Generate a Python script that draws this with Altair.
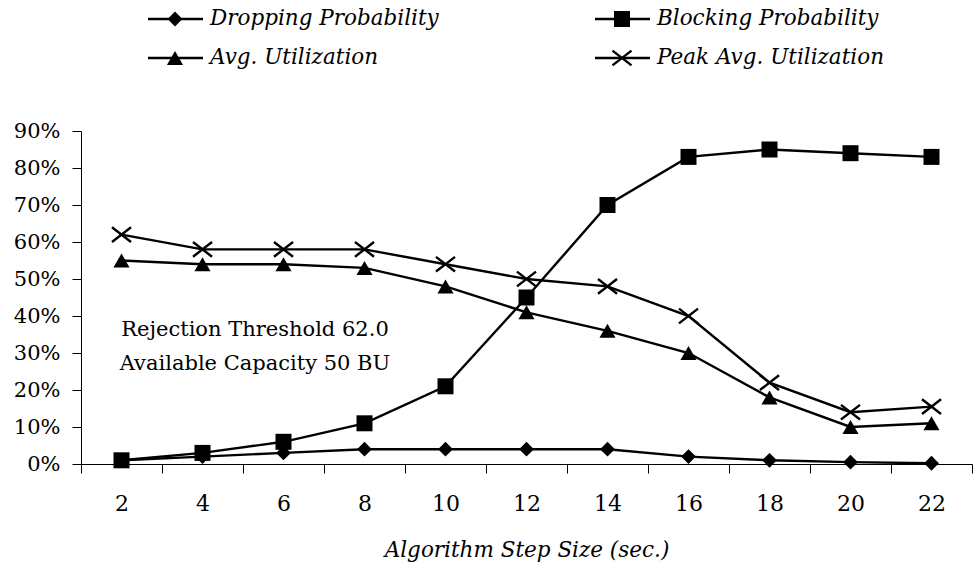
import altair as alt
import pandas as pd

steps = [2, 4, 6, 8, 10, 12, 14, 16, 18, 20, 22]
dropping = [1, 2, 3, 4, 4, 4, 4, 2, 1, 0.5, 0.2]
blocking = [1, 3, 6, 11, 21, 45, 70, 83, 85, 84, 83]
avg_util = [55, 54, 54, 53, 48, 41, 36, 30, 18, 10, 11]
peak_util = [62, 58, 58, 58, 54, 50, 48, 40, 22, 14, 15.5]

series_names = ["Dropping Probability", "Blocking Probability",
                "Avg. Utilization", "Peak Avg. Utilization"]
series_values = [dropping, blocking, avg_util, peak_util]
y_ticks = [0, 0.1, 0.2, 0.3, 0.4, 0.5, 0.6, 0.7, 0.8, 0.9]
x_title = "Algorithm Step Size (sec.)"
note_lines = ["Rejection Threshold 62.0", "Available Capacity 50 BU"]

X_PATH = "M-1.1,-0.85L1.1,0.85M-1.1,0.85L1.1,-0.85"
shapes = ["diamond", "square", "triangle-up", X_PATH]
sizes = [220, 256, 260, 300]

rows = []
for name, vals in zip(series_names, series_values):
    for s, v in zip(steps, vals):
        rows.append({"step": str(s), "value": v / 100.0, "series": name})
df = pd.DataFrame(rows)

FONT = "DejaVu Serif"
FS = 21
LW = 2.4
W, H = 891, 333

x_enc = alt.X("step:O", sort=[str(s) for s in steps],
              scale=alt.Scale(paddingInner=0, paddingOuter=0),
              axis=alt.Axis(title=x_title, labelAngle=0, tickBand="extent",
                            tickSize=9, labelPadding=20, titlePadding=25,
                            labelFont=FONT, labelFontSize=22, titleFont=FONT,
                            titleFontSize=21.5, titleFontStyle="italic",
                            titleFontWeight="normal", labelColor="black",
                            titleColor="black", domainColor="black",
                            tickColor="black", grid=False))
y_enc = alt.Y("value:Q", scale=alt.Scale(domain=[0, 0.9], nice=False),
              axis=alt.Axis(title=None, values=y_ticks, format=".0%",
                            tickSize=9, labelPadding=12, labelFont=FONT,
                            labelFontSize=FS, labelColor="black",
                            domainColor="black", tickColor="black",
                            grid=False))

base = alt.Chart(df)
lines = base.mark_line(color="black", strokeWidth=LW).encode(
    x=x_enc, y=y_enc, detail="series:N")

layers = [lines]
for name, shp, sz in zip(series_names, shapes, sizes):
    filled = shp != X_PATH
    pts = base.transform_filter(alt.datum.series == name).mark_point(
        shape=shp, size=sz, filled=filled, color="black",
        strokeWidth=LW if not filled else 0, opacity=1
    ).encode(x=x_enc, y=y_enc)
    layers.append(pts)

# annotation
note = alt.Chart(alt.Data(values=[{"t": 1}])).mark_text(
    font=FONT, fontSize=FS, align="center", baseline="alphabetic",
    lineHeight=34, color="black"
).encode(x=alt.value(174), y=alt.value(205), text=alt.value(note_lines))
layers.append(note)

# legend
leg_pos = [(67, -112), (514, -112), (67, -73), (514, -73)]
for name, shp, sz, (lx, ly) in zip(series_names, shapes, sizes, leg_pos):
    d = alt.Data(values=[{"label": name}])
    rule = alt.Chart(d).mark_rule(color="black", strokeWidth=LW).encode(
        x=alt.value(lx), x2=alt.value(lx + 55), y=alt.value(ly))
    filled = shp != X_PATH
    pt = alt.Chart(d).mark_point(shape=shp, size=sz, filled=filled,
                                 color="black",
                                 strokeWidth=LW if not filled else 0,
                                 opacity=1).encode(
        x=alt.value(lx + 27), y=alt.value(ly))
    txt = alt.Chart(d).mark_text(font=FONT, fontSize=21.5, fontStyle="italic",
                                 align="left", baseline="middle",
                                 color="black").encode(
        x=alt.value(lx + 62), y=alt.value(ly), text="label:N")
    layers += [rule, pt, txt]

chart = alt.layer(*layers).properties(
    width=W, height=H,
    autosize=alt.AutoSizeParams(type="none"),
    padding={"left": 81, "top": 131, "right": 2, "bottom": 103},
    background="white"
).configure_view(stroke=None)

chart.save("out.html", embed_options={"renderer": "svg", "actions": False})
